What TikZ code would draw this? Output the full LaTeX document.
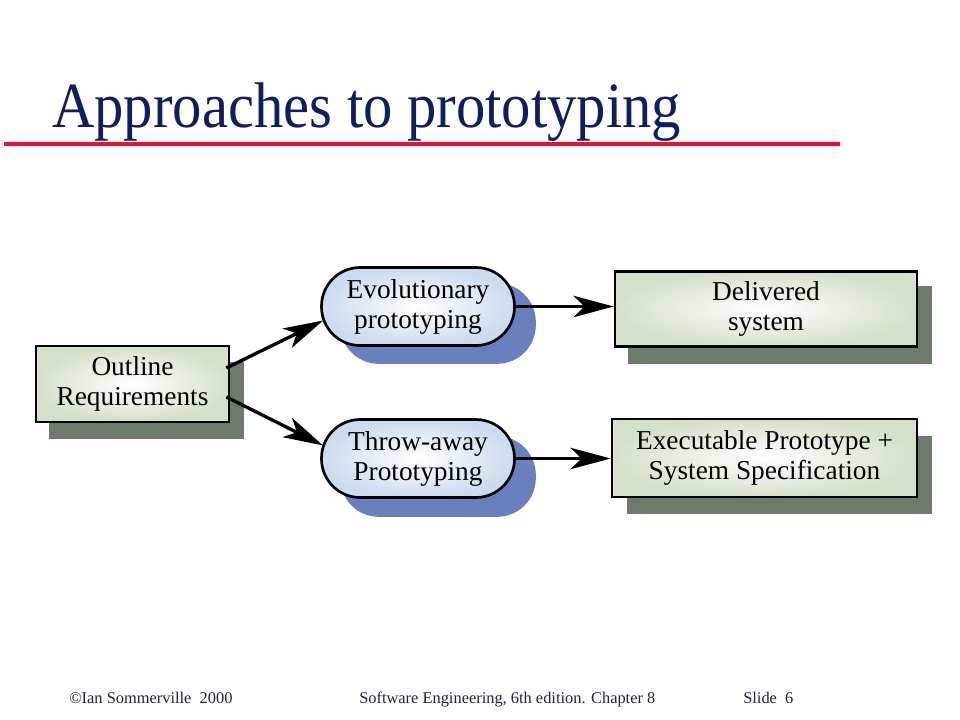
\documentclass[tikz,border=0pt]{standalone}
\usepackage{fontspec}
\setmainfont{Liberation Serif}
\usetikzlibrary{arrows.meta,calc,backgrounds}
\definecolor{titleblue}{HTML}{0F1E5E}
\definecolor{redline}{HTML}{E8112D}
\definecolor{boxshadow}{HTML}{6E7A6A}
\definecolor{boxedge}{HTML}{D5E0CA}
\definecolor{ovaledge}{HTML}{CCDBEF}
\definecolor{ovalshadow}{HTML}{6A7FBE}
\definecolor{footcol}{HTML}{1E2346}
\begin{document}
\begin{tikzpicture}[x=0.75pt,y=-0.75pt,
  boxtext/.style={font=\fontsize{20.5}{22.5}\selectfont, text=black, align=center},
  rectbox/.style={boxtext, draw=black, line width=2pt, inner color=white, outer color=boxedge,
    minimum height=57pt},
  ovalbox/.style={boxtext, draw=black, line width=2pt, inner color=white, outer color=ovaledge,
    rounded corners=29pt, minimum width=144.75pt, minimum height=58.5pt},
  arr/.style={line width=2.5pt, -{Stealth[length=30pt,width=16pt,inset=8pt]}},
  foot/.style={anchor=base west, inner sep=0pt, text=footcol, font=\fontsize{12.3}{14}\selectfont}]
\useasboundingbox (0,0) rectangle (960,720);

% title
\node[anchor=base west, text=titleblue, font=\fontsize{44}{50}\selectfont, inner sep=0pt] (title) at (52,128)
  {\scalebox{1}[1.1]{Approaches to prototyping}};
\draw[redline, line width=3pt] (4,144) -- (840,144);

% nodes
\node[rectbox, minimum width=144.75pt] (out) at (132.5,384) {Outline\\Requirements};
\node[ovalbox] (evo) at (418,306.5) {Evolutionary\\prototyping};
\node[ovalbox] (thr) at (418,458.5) {Throw-away\\Prototyping};
\node[rectbox, minimum width=226.5pt, minimum height=56pt] (del) at (766,309) {Delivered\\system};
\node[rectbox, minimum width=228.75pt, minimum height=58.5pt] (exe) at (764.5,458) {Executable Prototype +\\System Specification};

% shadows
\begin{scope}[on background layer]
  \fill[boxshadow] ($(out.north west)+(14,17)$) rectangle ($(out.south east)+(14,16)$);
  \fill[boxshadow] ($(del.north west)+(14,16)$) rectangle ($(del.south east)+(14,16)$);
  \fill[boxshadow] ($(exe.north west)+(16,18)$) rectangle ($(exe.south east)+(14,16)$);
  \fill[ovalshadow, rounded corners=29pt] ($(evo.north west)+(20,17)$) rectangle ($(evo.south east)+(20,17)$);
  \fill[ovalshadow, rounded corners=29pt] ($(thr.north west)+(20,18)$) rectangle ($(thr.south east)+(20,18)$);
\end{scope}

% connectors
\draw[arr] ($(out.east)+(-4,-16)$) -- ($(evo.west)+(3,14)$);
\draw[arr] ($(out.east)+(-4,13)$) -- ($(thr.west)+(3,-13)$);
\draw[arr] (evo.east) -- (evo.east -| del.west);
\draw[arr] (thr.east) -- (thr.east -| exe.west);

% footer
\node[foot] (f1) at (69,703) {©Ian Sommerville\ \ 2000};
\node[foot] (f2) at (359,703) {Software Engineering, 6th edition. Chapter 8};
\node[foot] (f3) at (743,703) {Slide\ \ 6};
\end{tikzpicture}
\end{document}
